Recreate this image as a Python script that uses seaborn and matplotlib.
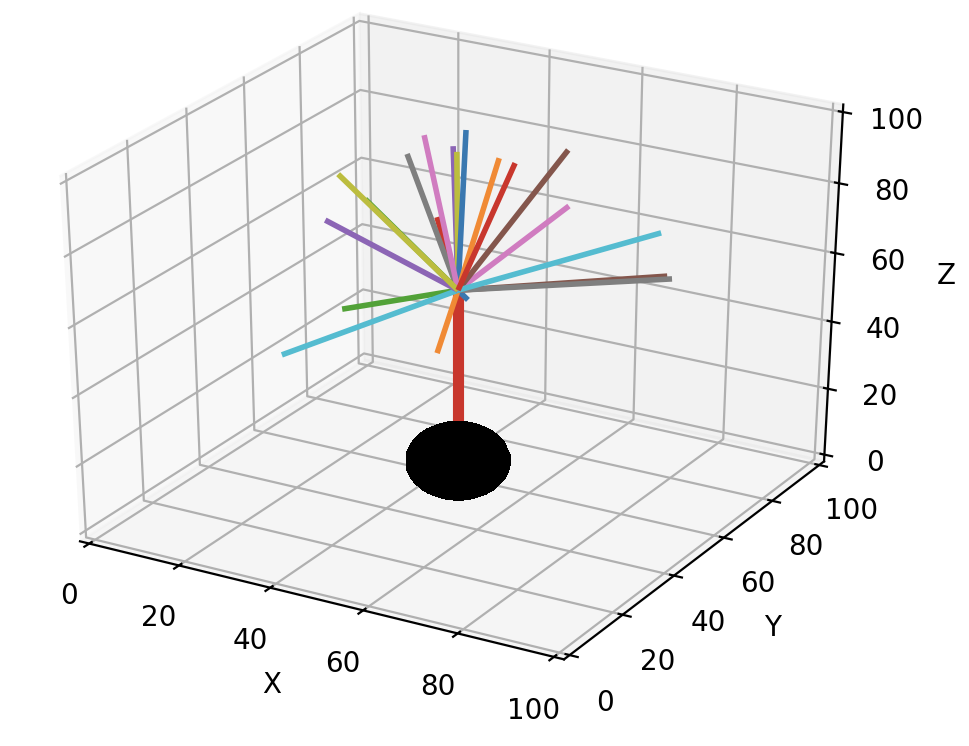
import numpy as np
import seaborn as sns
import matplotlib
matplotlib.use("Agg")
import matplotlib.pyplot as plt

sns.reset_defaults()

# trunk and root ball
trunk_x = [50, 50]
trunk_y = [50, 50]
trunk_z = [10, 60]
trunk_color = "#c8372d"
ball_center = (50, 50, 10)
ball_radius = 9.9

# branches: each runs from the top of the trunk to these end points
branch_x = [55.0, 51.3, 21.7, 39.7, 37.4, 91.0, 67.7, 92.0, 38.2, 20.5,
            27.4, 37.3, 47.3, 21.1, 18.3, 61.9, 28.2, 15.2, 89.5, 50.7]
branch_y = [45, 40, 55, 60, 70, 55, 60, 55, 70, 35,
            70, 75, 70, 65, 55, 70, 75, 65, 55, 70]
branch_z = [61.1, 47.3, 44.0, 73.2, 88.1, 73.1, 83.9, 72.6, 86.7, 40.3,
            83.3, 90.4, 87.3, 71.0, 68.9, 93.4, 86.6, 76.6, 84.7, 86.8]
branch_colors = ["#3a78b0", "#f08a35", "#52a238", "#c8372d", "#8c65b5",
                 "#84564c", "#d07cc0", "#7f7f7f", "#bcbd3f", "#55bcd0",
                 "#7f7f7f", "#3a78b0", "#f08a35", "#52a238", "#8c65b5",
                 "#84564c", "#d07cc0", "#bcbd3f", "#55bcd0", "#c8372d"]
ticks = [0, 20, 40, 60, 80, 100]

fig = plt.figure(figsize=(4.85, 3.73), dpi=200)
ax = fig.add_axes((-51.4 / 970, 41.4 / 746, 992 / 970, 739.2 / 746), projection="3d")
# let the 3D box fill the rectangle so it is stretched 4:3
ax.apply_aspect = lambda position=None: ax._set_position(ax.get_position(original=True), "active")
ax.set_box_aspect((1, 1, 1), zoom=0.947)

ax.plot(trunk_x, trunk_y, trunk_z, color=trunk_color, lw=4, solid_capstyle="butt")
for x, y, z, col in zip(branch_x, branch_y, branch_z, branch_colors):
    ax.plot([trunk_x[1], x], [trunk_y[1], y], [trunk_z[1], z], color=col, lw=2, solid_capstyle="butt")

u = np.linspace(0, 2 * np.pi, 24)
v = np.linspace(0, np.pi, 12)
ax.plot_surface(ball_center[0] + ball_radius * np.outer(np.cos(u), np.sin(v)),
                ball_center[1] + ball_radius * np.outer(np.sin(u), np.sin(v)),
                ball_center[2] + ball_radius * np.outer(np.ones_like(u), np.cos(v)),
                color="k", edgecolor="k", linewidth=0.5, antialiased=False, shade=False)

ax.set_xlim(-2.08, 102.08, view_margin=0)
ax.set_ylim(-2.08, 102.08, view_margin=0)
ax.set_zlim(-2.08, 102.08, view_margin=0)
ax.set_xticks(ticks)
ax.set_yticks(ticks)
ax.set_zticks(ticks)
ax.set_xlabel("X")
ax.set_ylabel("Y")
ax.set_zlabel("Z")
fig.savefig("out.png", dpi=200)
